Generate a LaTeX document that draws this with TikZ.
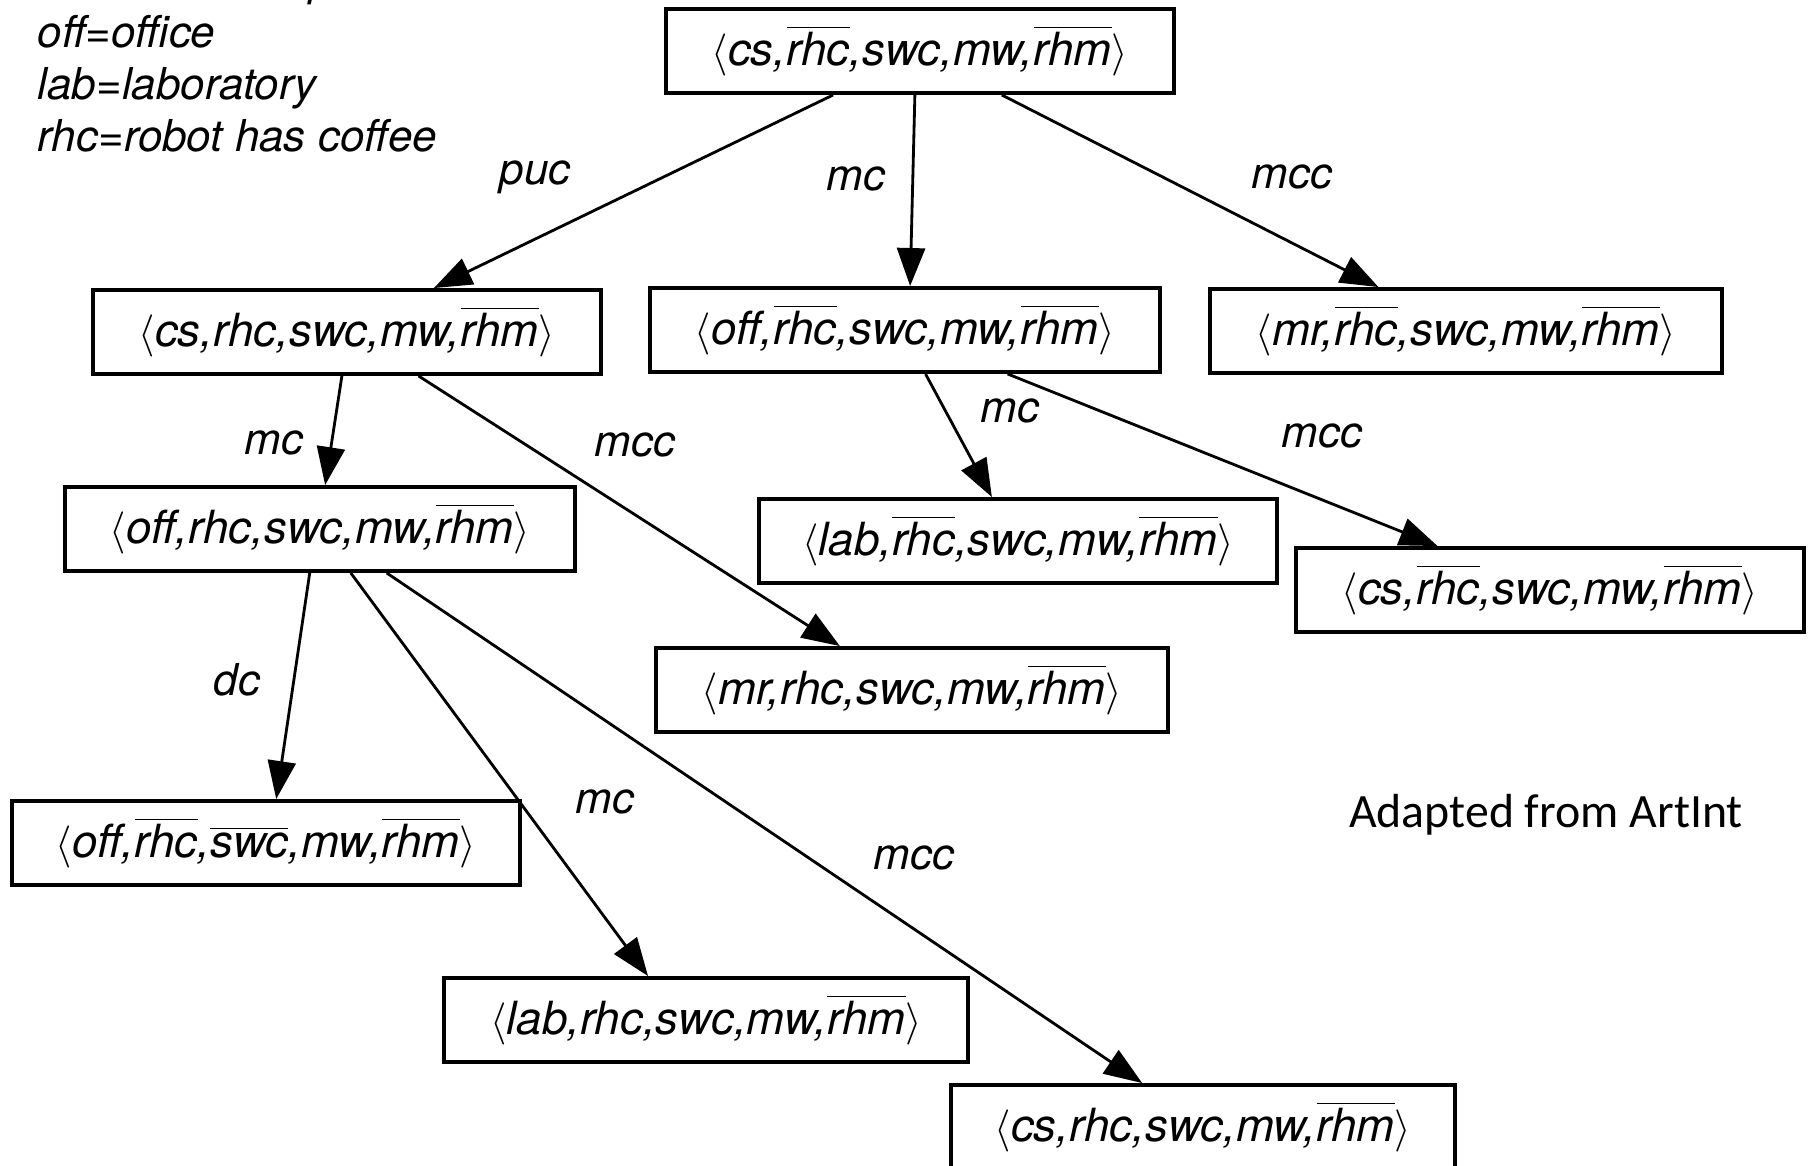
\documentclass[tikz,border=0pt]{standalone}
\usepackage{fontspec}
\setmainfont{TeX Gyre Heros}
\newfontfamily\notefont{Carlito}
\usepackage{tikz}
\usetikzlibrary{arrows.meta,calc}

\newcommand{\no}[1]{$\overline{\mbox{#1}}$}
\newcommand{\tup}[1]{$\langle$#1$\rangle$}

\begin{document}
\begin{tikzpicture}[x=0.01cm, y=-0.01cm]
        % Define styles
        \tikzset{
            state/.style={rectangle, draw, line width=1.1pt, minimum width=5.07cm, minimum height=0.84cm, inner sep=0pt, font=\fontsize{13}{15}\selectfont\itshape},
            action/.style={font=\fontsize{12.5}{15}\selectfont\itshape, inner sep=1pt},
            legend/.style={anchor=base west, inner sep=0pt, font=\fontsize{12.5}{15}\selectfont\itshape},
            arrow/.style={-{Triangle[length=0.38cm, width=0.28cm]}, line width=0.8pt}
        }
        \useasboundingbox (0,0) rectangle (1814,1166);

        % Legend
        \node[legend] (key_cs) at (37,-5) {cs=coffee shop};
        \node[legend] (key_off) at (37,47) {off=office};
        \node[legend] (key_lab) at (37,99) {lab=laboratory};
        \node[legend] (key_rhc) at (37,151) {rhc=robot has coffee};

        % Nodes
        \node[state] (state_root) at (920,51) {\tup{cs,\no{rhc},swc,mw,\no{rhm}}};
        \node[state] (state_puc) at (347,332) {\tup{cs,rhc,swc,mw,\no{rhm}}};
        \node[state, minimum width=5.09cm] (state_mc) at (905,330) {\tup{off,\no{rhc},swc,mw,\no{rhm}}};
        \node[state, minimum width=5.11cm] (state_mcc) at (1466,331) {\tup{mr,\no{rhc},swc,mw,\no{rhm}}};
        \node[state, minimum width=5.09cm] (state_puc_mc) at (320,529) {\tup{off,rhc,swc,mw,\no{rhm}}};
        \node[state, minimum width=5.18cm] (state_mc_mc) at (1018,541) {\tup{lab,\no{rhc},swc,mw,\no{rhm}}};
        \node[state] (state_mc_mcc) at (1550,590) {\tup{cs,\no{rhc},swc,mw,\no{rhm}}};
        \node[state, minimum width=5.11cm] (state_puc_mcc) at (912,690) {\tup{mr,rhc,swc,mw,\no{rhm}}};
        \node[state] (state_dc) at (266,843) {\tup{off,\no{rhc},\no{swc},mw,\no{rhm}}};
        \node[state, minimum width=5.23cm] (state_dc_mc) at (706,1020) {\tup{lab,rhc,swc,mw,\no{rhm}}};
        \node[state, minimum width=5.03cm] (state_dc_mcc) at (1203,1127) {\tup{cs,rhc,swc,mw,\no{rhm}}};

        % Arrows
        \draw[arrow] ($(state_root.south west)!.33!(state_root.south east)$) -- ($(state_puc.north west)!.67!(state_puc.north east)$);
        \draw[arrow] ($(state_root.south west)!.49!(state_root.south east)$) -- ($(state_mc.north west)!.51!(state_mc.north east)$);
        \draw[arrow] ($(state_root.south west)!.66!(state_root.south east)$) -- ($(state_mcc.north west)!.33!(state_mcc.north east)$);
        \draw[arrow] ($(state_puc.south west)!.49!(state_puc.south east)$) -- ($(state_puc_mc.north west)!.51!(state_puc_mc.north east)$);
        \draw[arrow] ($(state_puc.south west)!.64!(state_puc.south east)$) -- ($(state_puc_mcc.north west)!.36!(state_puc_mcc.north east)$);
        \draw[arrow] ($(state_mc.south west)!.54!(state_mc.south east)$) -- ($(state_mc_mc.north west)!.45!(state_mc_mc.north east)$);
        \draw[arrow] ($(state_mc.south west)!.70!(state_mc.south east)$) -- ($(state_mc_mcc.north west)!.28!(state_mc_mcc.north east)$);
        \draw[arrow] ($(state_puc_mc.south west)!.48!(state_puc_mc.south east)$) -- ($(state_dc.north west)!.52!(state_dc.north east)$);
        \draw[arrow] ($(state_puc_mc.south west)!.56!(state_puc_mc.south east)$) -- ($(state_dc_mc.north west)!.39!(state_dc_mc.north east)$);
        \draw[arrow] ($(state_puc_mc.south west)!.63!(state_puc_mc.south east)$) -- ($(state_dc_mcc.north west)!.38!(state_dc_mcc.north east)$);

        % Action labels
        \node[action] (act_puc) at (535,177) {puc};
        \node[action] (act_mc) at (856,179) {mc};
        \node[action] (act_mcc) at (1292,177) {mcc};
        \node[action] (act_puc_mc) at (274,443) {mc};
        \node[action] (act_puc_mcc) at (635,445) {mcc};
        \node[action] (act_mc_mc) at (1010,411) {mc};
        \node[action] (act_mc_mcc) at (1322,436) {mcc};
        \node[action] (act_dc) at (237,680) {dc};
        \node[action] (act_dc_mc) at (605,802) {mc};
        \node[action] (act_dc_mcc) at (914,858) {mcc};

        % Source
        \node[font=\notefont\fontsize{13.6}{16}\selectfont] (source) at (1546,815) {Adapted from ArtInt};
    \end{tikzpicture}
\end{document}
